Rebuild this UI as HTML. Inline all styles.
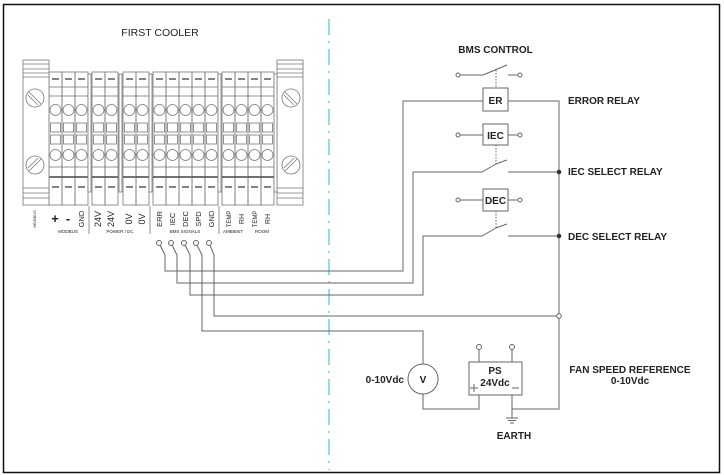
<!DOCTYPE html>
<html><head><meta charset="utf-8"><style>
html,body{margin:0;padding:0;background:#fff}
svg{display:block}
text{font-family:"Liberation Sans",Arial,sans-serif;fill:#222}
</style></head><body>
<svg width="724" height="475" viewBox="0 0 724 475" xmlns="http://www.w3.org/2000/svg" xmlns:xlink="http://www.w3.org/1999/xlink">
<defs>
<g id="col" stroke="#777" stroke-width="0.8" fill="none">
<rect x="0" y="72" width="13" height="133"/>
<line x1="3" y1="79" x2="10" y2="79" stroke="#333" stroke-width="1.2"/>
<line x1="0" y1="87" x2="13" y2="87"/><line x1="0" y1="96" x2="13" y2="96"/>
<circle cx="6.5" cy="110" r="5.5"/><circle cx="6.5" cy="155" r="5.5"/>
<rect x="1.5" y="123" width="10" height="9"/><rect x="1.5" y="135" width="10" height="9"/>
<line x1="0" y1="167" x2="13" y2="167"/><line x1="0" y1="177" x2="13" y2="177" stroke="#444" stroke-width="1.5"/>
<line x1="3" y1="187" x2="10" y2="187" stroke="#333" stroke-width="1.2"/>
</g>
</defs>
<rect x="3.5" y="4.5" width="716" height="468" fill="#fff" stroke="#111" stroke-width="1.5"/>
<line x1="329" y1="19" x2="329" y2="470" stroke="#6fd3dc" stroke-width="1.5" stroke-dasharray="16,6,2,6"/>
<text x="160" y="36" font-size="10.5" text-anchor="middle">FIRST COOLER</text>

<use xlink:href="#col" x="49"/><use xlink:href="#col" x="62"/><use xlink:href="#col" x="75"/>
<use xlink:href="#col" x="92"/><use xlink:href="#col" x="105"/>
<use xlink:href="#col" x="123"/><use xlink:href="#col" x="136"/>
<use xlink:href="#col" x="153"/><use xlink:href="#col" x="166"/><use xlink:href="#col" x="179"/><use xlink:href="#col" x="192"/><use xlink:href="#col" x="205"/>
<use xlink:href="#col" x="222"/><use xlink:href="#col" x="235"/><use xlink:href="#col" x="248"/><use xlink:href="#col" x="261"/>

<g stroke="#777" stroke-width="0.8" fill="none">
<rect x="23" y="60" width="26" height="145" fill="#fff"/>
<line x1="23" y1="64" x2="49" y2="64"/><line x1="23" y1="69" x2="49" y2="69"/><line x1="23" y1="73" x2="49" y2="73"/><line x1="23" y1="77" x2="49" y2="77"/>
<line x1="23" y1="188" x2="49" y2="188"/><line x1="23" y1="193" x2="49" y2="193"/><line x1="23" y1="198" x2="49" y2="198"/>
<circle cx="35" cy="98" r="9"/><line x1="29" y1="92" x2="41" y2="104"/><line x1="28" y1="95" x2="38" y2="105"/>
<circle cx="35" cy="165" r="9"/><line x1="29" y1="171" x2="41" y2="159"/><line x1="28" y1="168" x2="38" y2="158"/>
<rect x="277" y="60" width="26" height="145" fill="#fff"/>
<line x1="277" y1="64" x2="303" y2="64"/><line x1="277" y1="69" x2="303" y2="69"/><line x1="277" y1="73" x2="303" y2="73"/><line x1="277" y1="77" x2="303" y2="77"/>
<line x1="277" y1="188" x2="303" y2="188"/><line x1="277" y1="193" x2="303" y2="193"/><line x1="277" y1="198" x2="303" y2="198"/>
<circle cx="291" cy="98" r="9"/><line x1="285" y1="92" x2="297" y2="104"/><line x1="284" y1="95" x2="294" y2="105"/>
<circle cx="291" cy="165" r="9"/><line x1="285" y1="171" x2="297" y2="159"/><line x1="284" y1="168" x2="294" y2="158"/>
<rect x="88" y="74" width="3" height="118" fill="#fff"/><rect x="119" y="74" width="3" height="118" fill="#fff"/><rect x="149" y="74" width="3" height="118" fill="#fff"/><rect x="218" y="74" width="3" height="118" fill="#fff"/><rect x="274" y="74" width="3" height="118" fill="#fff"/>
</g>

<g font-size="7.5">
<text x="55" y="223" font-size="13" text-anchor="middle" font-weight="bold">+</text>
<text x="68" y="223" font-size="13" text-anchor="middle" font-weight="bold">-</text>
<g text-anchor="middle">
<text transform="translate(84,219) rotate(-90)">GND</text>
<text transform="translate(101,219) rotate(-90)" font-size="9">24V</text>
<text transform="translate(114,219) rotate(-90)" font-size="9">24V</text>
<text transform="translate(132,219) rotate(-90)" font-size="9">0V</text>
<text transform="translate(145,219) rotate(-90)" font-size="9">0V</text>
<text transform="translate(162,219) rotate(-90)">ERR</text>
<text transform="translate(175,219) rotate(-90)">IEC</text>
<text transform="translate(188,219) rotate(-90)">DEC</text>
<text transform="translate(201,219) rotate(-90)">SPD</text>
<text transform="translate(214,219) rotate(-90)">GND</text>
<text transform="translate(231,219) rotate(-90)" font-size="6">TEMP</text>
<text transform="translate(244,219) rotate(-90)" font-size="7">RH</text>
<text transform="translate(257,219) rotate(-90)" font-size="6">TEMP</text>
<text transform="translate(270,219) rotate(-90)" font-size="7">RH</text>
<text transform="translate(36,219) rotate(-90)" font-size="4">MODBUS</text>
<text x="68" y="233" font-size="4.5">MODBUS</text>
<text x="120" y="233" font-size="4.5">POWER / DC</text>
<text x="185" y="233" font-size="4.5">BMS SIGNALS</text>
<text x="233" y="233" font-size="4.5">AMBIENT</text>
<text x="262" y="233" font-size="4.5">ROOM</text>
</g></g>
<g stroke="#777" stroke-width="0.8">
<line x1="89" y1="206" x2="89" y2="234"/><line x1="150" y1="206" x2="150" y2="234"/><line x1="219" y1="206" x2="219" y2="234"/>
</g>

<g stroke="#666" stroke-width="1" fill="none">
<circle cx="159" cy="243" r="2.5"/><circle cx="171" cy="243" r="2.5"/><circle cx="184" cy="243" r="2.5"/><circle cx="196" cy="243" r="2.5"/><circle cx="209" cy="243" r="2.5"/>
<polyline points="160,245 165,255 165,271 403,271 403,101 483,101"/>
<polyline points="172,245 177,255 177,283 413,283 413,172 482,172 496,164"/>
<polyline points="185,245 190,255 190,295 423,295 423,236 482,236 496,228"/>
<polyline points="197,245 202,255 202,331 423,331 423,364"/>
<polyline points="210,245 214,255 214,316 559,316"/>
<polyline points="508,101 559,101 559,409 512,409 512,395"/>
<line x1="508" y1="172" x2="559" y2="172"/>
<line x1="508" y1="236" x2="559" y2="236"/>
<polyline points="423,394 423,409 479,409 479,395"/>
<rect x="483" y="88" width="25" height="23" fill="#fff"/>
<rect x="483" y="124" width="25" height="21" fill="#fff"/>
<rect x="483" y="189" width="25" height="22" fill="#fff"/>
<line x1="460" y1="75" x2="483" y2="75"/><line x1="483" y1="75" x2="507" y2="65"/><line x1="508" y1="75" x2="518" y2="75"/>
<circle cx="458" cy="75" r="2"/><circle cx="520" cy="75" r="2"/>
<line x1="460" y1="135" x2="483" y2="135"/><line x1="508" y1="135" x2="518" y2="135"/><circle cx="458" cy="135" r="2"/><circle cx="520" cy="135" r="2"/>
<line x1="460" y1="200" x2="483" y2="200"/><line x1="508" y1="200" x2="518" y2="200"/><circle cx="458" cy="200" r="2"/><circle cx="520" cy="200" r="2"/>
<line x1="496" y1="164" x2="507" y2="160"/><line x1="496" y1="228" x2="507" y2="224"/>
<g stroke-dasharray="1.5,1.5"><line x1="496" y1="70" x2="496" y2="88"/><line x1="496" y1="145" x2="496" y2="164"/><line x1="496" y1="211" x2="496" y2="228"/></g>
<circle cx="423" cy="379" r="15" fill="#fff"/>
<rect x="469" y="362" width="53" height="33" fill="#fff"/>
<line x1="479" y1="362" x2="479" y2="350"/><line x1="512" y1="362" x2="512" y2="350"/>
<circle cx="479" cy="347" r="2.5"/><circle cx="512" cy="347" r="2.5"/>
<line x1="512" y1="409" x2="512" y2="418"/><line x1="506" y1="418" x2="518" y2="418"/><line x1="508" y1="420.5" x2="516" y2="420.5"/><line x1="510" y1="423" x2="514" y2="423"/>
<line x1="470" y1="388" x2="478" y2="388"/><line x1="474" y1="384" x2="474" y2="392"/><line x1="512" y1="388" x2="519" y2="388"/>
</g>
<g fill="#333"><circle cx="559" cy="172" r="2.3"/><circle cx="559" cy="236" r="2.3"/></g>
<circle cx="559" cy="316" r="2.3" fill="#fff" stroke="#666"/>

<g font-size="10" font-weight="bold">
<text x="495.5" y="53" text-anchor="middle">BMS CONTROL</text>
<text x="495.5" y="104" text-anchor="middle">ER</text>
<text x="495.5" y="139" text-anchor="middle">IEC</text>
<text x="495.5" y="204" text-anchor="middle">DEC</text>
<text x="568" y="104">ERROR RELAY</text>
<text x="568" y="175">IEC SELECT RELAY</text>
<text x="568" y="240">DEC SELECT RELAY</text>
<text x="630" y="373" text-anchor="middle">FAN SPEED REFERENCE</text>
<text x="630" y="384" text-anchor="middle">0-10Vdc</text>
<text x="404" y="383" text-anchor="end">0-10Vdc</text>
<text x="423" y="383" text-anchor="middle">V</text>
<text x="495" y="374" text-anchor="middle">PS</text>
<text x="495" y="386" text-anchor="middle">24Vdc</text>
<text x="514" y="439" text-anchor="middle">EARTH</text>
</g>
</svg>
</body></html>
